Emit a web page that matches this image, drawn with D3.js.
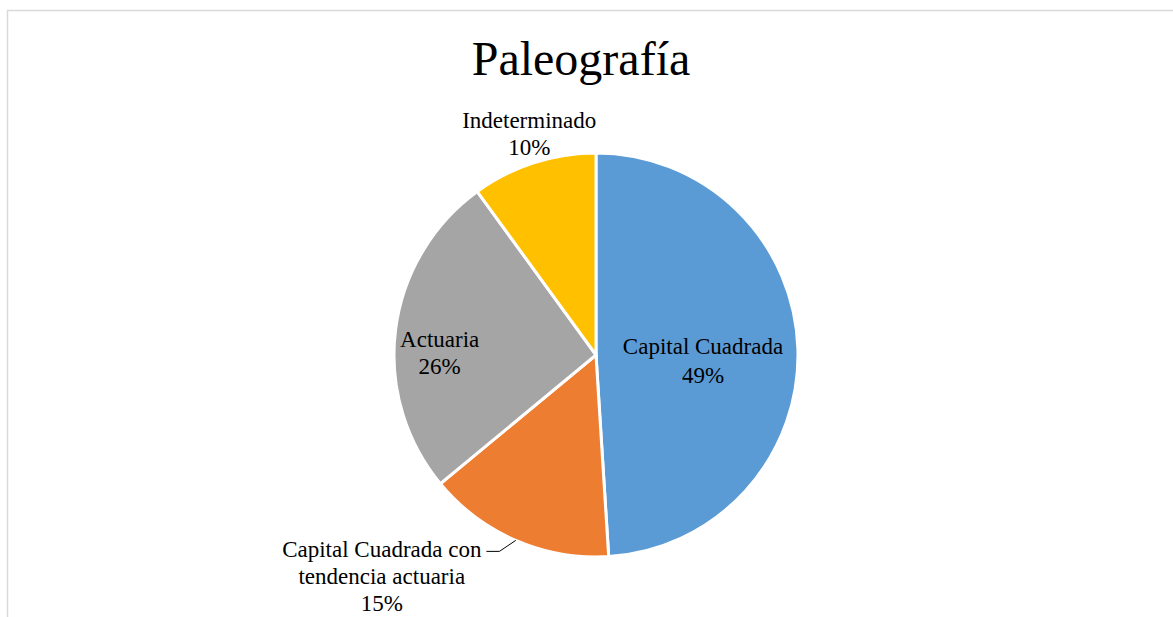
<!DOCTYPE html>
<html>
<head>
<meta charset="utf-8">
<script src="https://cdn.jsdelivr.net/npm/d3@7"></script>
<style>
  body { margin: 0; background: #fff; }
  text { font-family: "Liberation Serif", "Times New Roman", serif; fill: #000; }
</style>
</head>
<body>
<div id="chart"></div>
<script>
// data
let categories = ["Capital Cuadrada", "Capital Cuadrada con tendencia actuaria", "Actuaria", "Indeterminado"];
let values = [49, 15, 26, 10];
let colors = ["#5B9BD5", "#ED7D31", "#A5A5A5", "#FFC000"];
// how the label text is split in lines
let labelLines = [["Capital Cuadrada"], ["Capital Cuadrada con", "tendencia actuaria"], ["Actuaria"], ["Indeterminado"]];

let w = 1173, h = 617;
let cx = 596, cy = 355, r = 202;

let svg = d3.select("#chart").append("svg")
    .attr("width", w)
    .attr("height", h);

// chart frame (goes off the bottom/right of the window)
svg.append("rect")
    .attr("x", 7.5).attr("y", 10.5)
    .attr("width", w + 20).attr("height", h + 20)
    .attr("fill", "none")
    .attr("stroke", "#d9d9d9")
    .attr("stroke-width", 1.5);

svg.append("text")
    .attr("x", 581)
    .attr("y", 75)
    .attr("text-anchor", "middle")
    .style("font-size", "48px")
    .text("Paleografía");

let data = categories.map((c, i) => ({name: c, value: values[i], color: colors[i], lines: labelLines[i]}));

let pie = d3.pie().sort(null).value(d => d.value);
let arcs = pie(data);

let arc = d3.arc().innerRadius(0).outerRadius(r);

let g = svg.append("g").attr("transform", "translate(" + cx + "," + cy + ")");

g.selectAll(".slice").data(arcs)
  .enter().append("path")
    .attr("class", "slice")
    .attr("d", arc)
    .attr("fill", d => d.data.color)
    .attr("stroke", "#fff")
    .attr("stroke-width", 3);

// label radius as fraction of r, plus a nudge for the ones excel moved
let labelFrac = [0.53, 1.0, 0.78, 1.07];
let labelNudge = [[0, 9], [-134, 36], [0, 17], [0, -16]];
let lineH = 27;

arcs.forEach(function(a, i){
  let mid = (a.startAngle + a.endAngle) / 2;
  let lr = r * labelFrac[i];
  let lx = Math.sin(mid) * lr + labelNudge[i][0];
  let ly = -Math.cos(mid) * lr + labelNudge[i][1];
  let lines = a.data.lines.concat([Math.round(a.data.value / d3.sum(values) * 100) + "%"]);
  let lh = i == 0 ? 29 : lineH;
  let top = ly - (lines.length - 1) * lh / 2;
  let t = g.append("text")
      .attr("text-anchor", "middle")
      .style("font-size", "23px");
  let first;
  lines.forEach(function(s, k){
    let sp = t.append("tspan")
      .attr("x", lx)
      .attr("y", top + k * lh + 8)
      .text(s);
    if (k == 0) first = sp;
  });
  if (i == 1) {
    // leader line from label to the slice edge
    let len = first.node().getComputedTextLength();
    let sx = lx + len / 2 + 5;
    let ex = Math.sin(mid) * r, ey = -Math.cos(mid) * r;
    g.append("polyline")
      .attr("points", [[sx, top + 2], [sx + 13, top + 2], [ex, ey]].map(p => p.join(",")).join(" "))
      .attr("fill", "none")
      .attr("stroke", "#000")
      .attr("stroke-width", 1);
  }
});
</script>
</body>
</html>
